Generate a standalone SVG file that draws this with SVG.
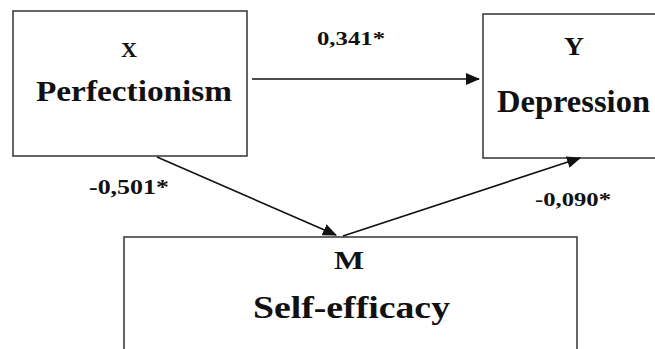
<svg xmlns="http://www.w3.org/2000/svg" width="655" height="349" viewBox="0 0 655 349">
<style>
.box{fill:#fff;stroke:#333;stroke-width:1.5}
.t{font-family:'Liberation Serif','Times New Roman',Times,serif;font-weight:700;fill:#111;text-anchor:middle}
.c{stroke:#111;stroke-width:1.6;fill:none;marker-end:url(#ah)}
</style>
<defs>
<marker id="ah" markerWidth="14" markerHeight="12" refX="13" refY="6" orient="auto" markerUnits="userSpaceOnUse">
<path d="M0,0 L14,6 L0,12 Z" fill="#111"/>
</marker>
</defs>
<rect width="655" height="349" fill="#fff"/>
<g id="node-x">
<rect class="box" x="13" y="11" width="234" height="145"/>
<text class="t" x="129" y="57" font-size="22" textLength="16" lengthAdjust="spacingAndGlyphs">X</text>
<text class="t" x="134" y="101" font-size="30" textLength="196" lengthAdjust="spacingAndGlyphs">Perfectionism</text>
</g>
<g id="node-y">
<rect class="box" x="483" y="14" width="175" height="144"/>
<text class="t" x="574" y="55" font-size="25" textLength="20" lengthAdjust="spacingAndGlyphs">Y</text>
<text class="t" x="573.5" y="112" font-size="31" textLength="153" lengthAdjust="spacingAndGlyphs">Depression</text>
</g>
<g id="node-m">
<rect class="box" x="124" y="237" width="453" height="130"/>
<text class="t" x="349" y="269" font-size="25" textLength="30" lengthAdjust="spacingAndGlyphs">M</text>
<text class="t" x="351.5" y="318" font-size="32" textLength="197" lengthAdjust="spacingAndGlyphs">Self-efficacy</text>
</g>
<g id="connectors">
<line class="c" x1="252" y1="79" x2="479" y2="79"/>
<line class="c" x1="157" y1="157" x2="336" y2="235"/>
<line class="c" x1="343" y1="236" x2="580" y2="158"/>
</g>
<g id="labels">
<text class="t" x="351" y="45" font-size="18" textLength="68" lengthAdjust="spacingAndGlyphs">0,341*</text>
<text class="t" x="129" y="194" font-size="21" textLength="80" lengthAdjust="spacingAndGlyphs">-0,501*</text>
<text class="t" x="573" y="206" font-size="19" textLength="76" lengthAdjust="spacingAndGlyphs">-0,090*</text>
</g>
</svg>
